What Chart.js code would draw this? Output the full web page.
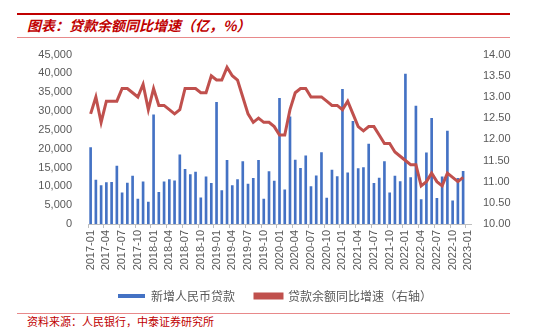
<!DOCTYPE html>
<html>
<head>
<meta charset="utf-8">
<script src="https://cdn.jsdelivr.net/npm/chart.js@4.4.0/dist/chart.umd.min.js"></script>
<style>
  body { margin: 0; background: #fff; }
  #wrap { position: relative; width: 550px; height: 336px; overflow: hidden; font-family: "Noto Sans CJK SC", sans-serif; }
  .rule { position: absolute; left: 17px; width: 493px; }
  #title { position: absolute; left: 27px; top: 15px; font-size: 14px; font-weight: bold; font-style: italic; color: #C00000; }
  #source { position: absolute; left: 27px; top: 313px; font-size: 11px; color: #C00000; }
  #box { position: absolute; left: 0; top: 40px; width: 550px; height: 272px; }
</style>
</head>
<body>
<div id="wrap">
  <div class="rule" style="top:13px;height:2px;background:#C00000;"></div>
  <div id="title">图表：贷款余额同比增速（亿，%）</div>
  <div class="rule" style="top:37px;height:1px;background:#E8898A;"></div>
  <div id="box"><canvas id="myChart"></canvas></div>
  <div class="rule" style="top:313px;height:1px;background:#E8898A;"></div>
  <div id="source">资料来源：人民银行，中泰证券研究所</div>
</div>
<script>
// months 2017-01 .. 2023-01 (last month has no data yet)
const months = [];
for (let y = 2017; y <= 2023; y++) {
  for (let m = 1; m <= 12; m++) {
    if (y === 2023 && m > 1) break;
    months.push(y + '-' + String(m).padStart(2, '0'));
  }
}

// 新增人民币贷款 (亿元)
const newLoans = [
  20300, 11700, 10200, 11000, 11100, 15400, 8255, 10900, 12700, 6632, 11200, 5844,
  29000, 8393, 11200, 11800, 11500, 18400, 14500, 13100, 13800, 6970, 12500, 10800,
  32300, 8858, 16900, 10200, 11800, 16600, 10600, 12100, 16900, 6613, 13900, 11400,
  33400, 9057, 28500, 17000, 14800, 18100, 9927, 12800, 19000, 6898, 14300, 12600,
  35800, 13600, 27300, 14700, 15000, 21200, 10800, 12200, 16600, 8262, 12700, 11300,
  39800, 12300, 31300, 6454, 18900, 28100, 6790, 12500, 24700, 6152, 12100, 14000,
  null
];

// 贷款余额同比增速 (%)
const loanGrowth = [
  12.6, 13.0, 12.4, 12.9, 12.9, 12.9, 13.2, 13.2, 13.1, 13.0, 13.3, 12.7,
  13.2, 12.8, 12.8, 12.7, 12.6, 12.7, 13.2, 13.2, 13.2, 13.1, 13.1, 13.5,
  13.4, 13.4, 13.7, 13.5, 13.4, 13.0, 12.6, 12.4, 12.5, 12.4, 12.4, 12.3,
  12.1, 12.1, 12.7, 13.1, 13.2, 13.2, 13.0, 13.0, 13.0, 12.9, 12.8, 12.8,
  12.7, 12.9, 12.6, 12.3, 12.2, 12.3, 12.3, 12.1, 11.9, 11.9, 11.7, 11.6,
  11.5, 11.4, 11.4, 10.9, 11.0, 11.2, 11.0, 10.9, 11.2, 11.1, 11.0, 11.1,
  null
];

const leftTicks = [0, 5000, 10000, 15000, 20000, 25000, 30000, 35000, 40000, 45000];
const rightTicks = [10, 10.5, 11, 11.5, 12, 12.5, 13, 13.5, 14];

const tickFont = { family: 'Arial, "Liberation Sans", sans-serif', size: 11 };

new Chart(document.getElementById('myChart'), {
  data: {
    labels: months,
    datasets: [
      {
        type: 'bar',
        label: '新增人民币贷款',
        data: newLoans,
        backgroundColor: '#4472C4',
        barThickness: 2,
        yAxisID: 'y',
        order: 2
      },
      {
        type: 'line',
        label: '贷款余额同比增速（右轴）',
        data: loanGrowth,
        borderColor: '#C0504D',
        backgroundColor: '#C0504D',
        borderWidth: 3,
        pointRadius: 0,
        tension: 0,
        yAxisID: 'y1',
        order: 1
      }
    ]
  },
  options: {
    responsive: true,
    maintainAspectRatio: false,
    animation: false,
    layout: { padding: { top: 7, bottom: 0 } },
    plugins: {
      tooltip: { enabled: false },
      legend: {
        position: 'bottom',
        labels: {
          boxWidth: 27,
          boxHeight: 4,
          padding: 20,
          color: '#595959',
          font: { family: '"Noto Sans CJK SC", sans-serif', size: 12 },
          sort: (a, b) => a.datasetIndex - b.datasetIndex
        }
      }
    },
    scales: {
      x: {
        offset: true,
        grid: {
          offset: true,
          drawOnChartArea: false,
          drawTicks: true,
          tickLength: 4,
          color: ctx => (ctx.index % 3 === 0 ? '#BFBFBF' : 'rgba(0,0,0,0)')
        },
        border: { color: '#BFBFBF' },
        ticks: {
          autoSkip: false,
          maxRotation: 90,
          minRotation: 90,
          padding: 2,
          color: '#595959',
          font: tickFont,
          callback: function (val, i) { return i % 3 === 0 ? this.getLabelForValue(val) : ''; }
        },
        afterFit: s => { s.height = 46; }
      },
      y: {
        position: 'left',
        min: leftTicks[0],
        max: leftTicks[leftTicks.length - 1],
        grid: { display: false },
        border: { display: false },
        ticks: {
          autoSkip: false,
          stepSize: leftTicks[1] - leftTicks[0],
          padding: 8,
          color: '#595959',
          font: tickFont,
          callback: v => v.toLocaleString('en-US')
        },
        afterFit: s => { s.width = 88; }
      },
      y1: {
        position: 'right',
        min: rightTicks[0],
        max: rightTicks[rightTicks.length - 1],
        grid: { display: false },
        border: { display: false },
        ticks: {
          autoSkip: false,
          stepSize: rightTicks[1] - rightTicks[0],
          padding: 4,
          color: '#595959',
          font: tickFont,
          callback: v => v.toFixed(2)
        },
        afterFit: s => { s.width = 79; }
      }
    }
  }
});
</script>
</body>
</html>
